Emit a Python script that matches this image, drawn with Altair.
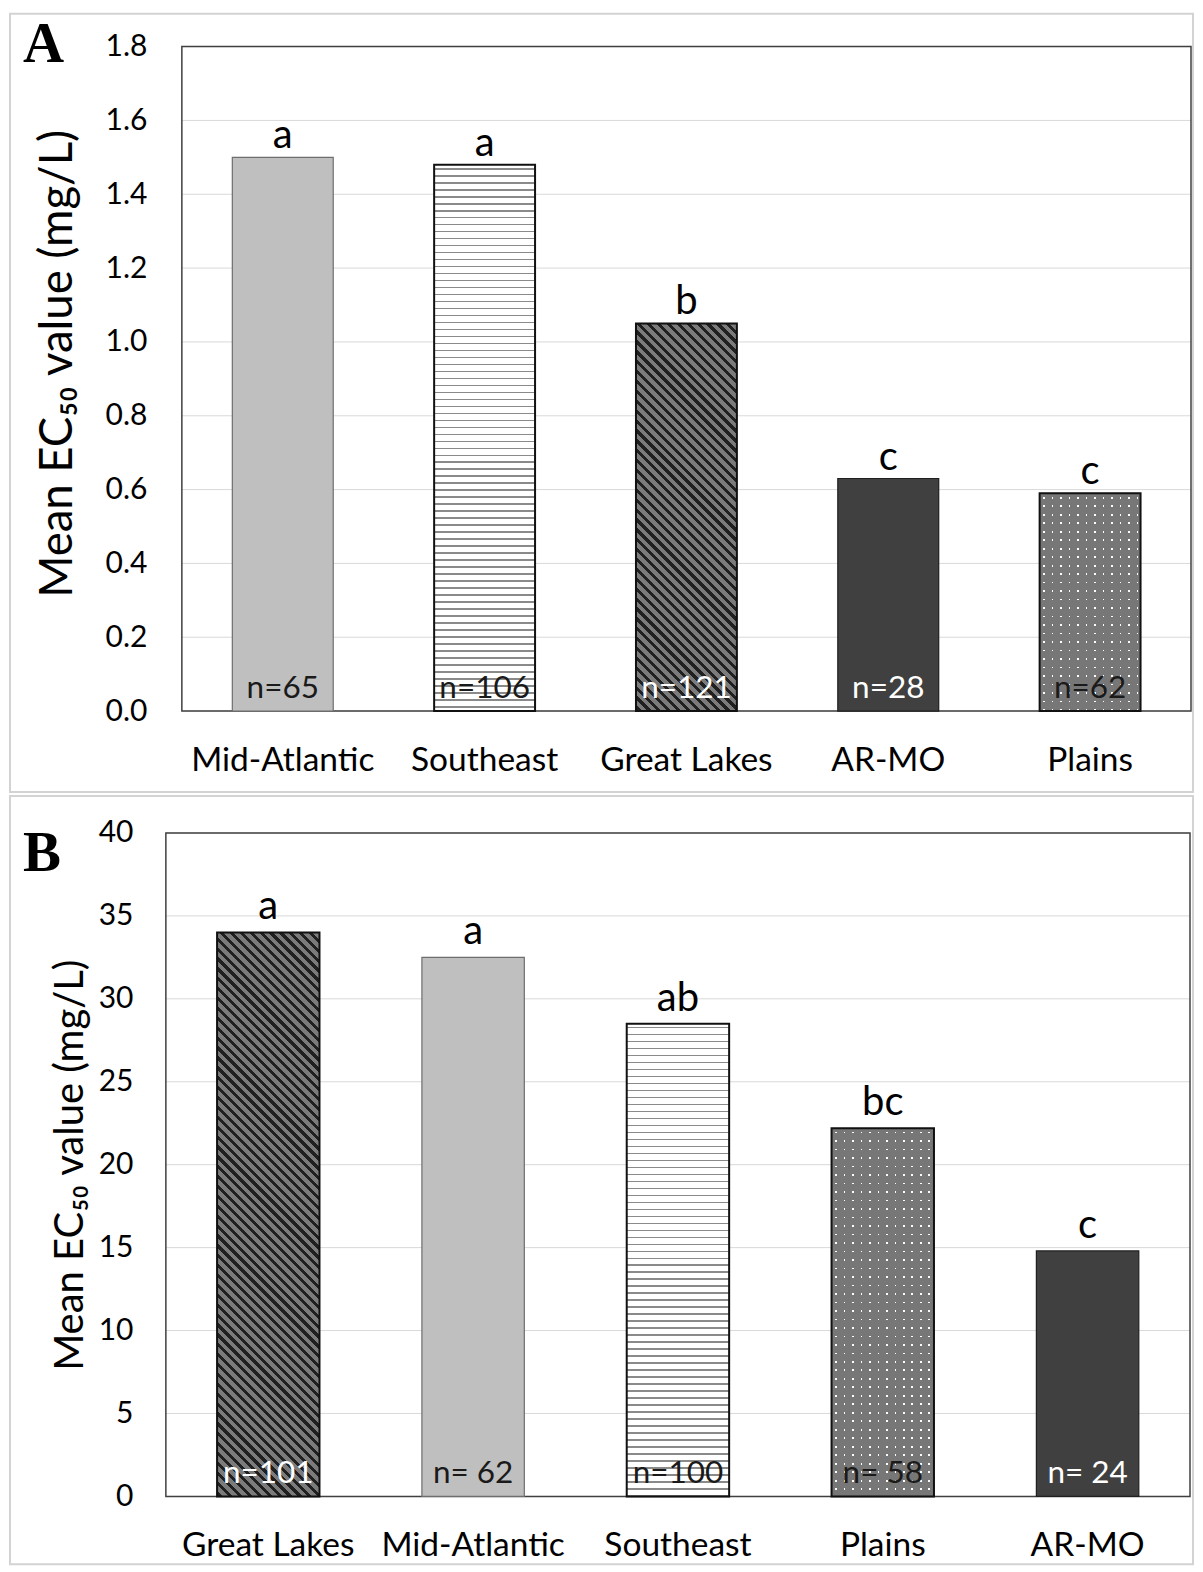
import math
import altair as alt
import pandas as pd

# ---------------- data ----------------
a_regions = ["Mid-Atlantic", "Southeast", "Great Lakes", "AR-MO", "Plains"]
a_values = [1.50, 1.48, 1.05, 0.63, 0.59]
a_letters = ["a", "a", "b", "c", "c"]
a_n = ["n=65", "n=106", "n=121", "n=28", "n=62"]
a_ticks = [0.0, 0.2, 0.4, 0.6, 0.8, 1.0, 1.2, 1.4, 1.6, 1.8]

b_regions = ["Great Lakes", "Mid-Atlantic", "Southeast", "Plains", "AR-MO"]
b_values = [34.0, 32.5, 28.5, 22.2, 14.8]
b_letters = ["a", "a", "ab", "bc", "c"]
b_n = ["n=101", "n= 62", "n=100", "n= 58", "n= 24"]
b_ticks = [0, 5, 10, 15, 20, 25, 30, 35, 40]

TITLE = "Mean EC\u2085\u2080 value  (mg/L)"

# ---------------- styles ----------------
PATTERN = {"Mid-Atlantic": "light", "Southeast": "hstripe", "Great Lakes": "diag",
           "AR-MO": "dark", "Plains": "dots"}
N_COLOR = {"Mid-Atlantic": "#1a1a1a", "Southeast": "#1a1a1a", "Great Lakes": "#ffffff",
           "AR-MO": "#ffffff", "Plains": "#1a1a1a"}
FONT = "Lato"
CLEAR = "rgba(255,255,255,0)"


def band_stops(L, period, line, bg, fg, phase=0.0):
    stops = [{"offset": 0, "color": bg}]
    pos = phase
    while pos < L:
        a = round(max(pos, 0.0) / L, 5)
        b = round(min(pos + line, L) / L, 5)
        stops += [{"offset": a, "color": bg}, {"offset": a, "color": fg},
                  {"offset": b, "color": fg}, {"offset": b, "color": bg}]
        pos += period
    stops.append({"offset": 1, "color": bg})
    return stops


def hgrad(h, period, line, bg, fg, phase=0.0):
    return {"gradient": "linear", "x1": 0, "y1": 0, "x2": 0, "y2": 1,
            "stops": band_stops(h, period, line, bg, fg, phase)}


def vgrad(w, period, line, bg, fg, phase=0.0):
    return {"gradient": "linear", "x1": 0, "y1": 0, "x2": 1, "y2": 0,
            "stops": band_stops(w, period, line, bg, fg, phase)}


def dgrad(w, h, period, line, bg, fg):
    r = h / w
    s = (1 + r) / (1 + r * r)
    L = w + h
    return {"gradient": "linear", "x1": 0, "y1": 1, "x2": round(s, 6), "y2": round(1 - s * r, 6),
            "stops": band_stops(L, period * math.sqrt(2), line * math.sqrt(2), bg, fg, 2.0)}


def bar_layers(ch, region, w, h):
    kind = PATTERN[region]
    if kind == "light":
        return [ch.mark_bar(fill="#bfbfbf", stroke="#6e6e6e", strokeWidth=1.2)]
    if kind == "dark":
        return [ch.mark_bar(fill="#404040", stroke="#1f1f1f", strokeWidth=1.2)]
    if kind == "hstripe":
        return [ch.mark_bar(fill=hgrad(h, 7.0, 1.8, "#ffffff", "#8a8a8a", 3.0),
                            stroke="#111111", strokeWidth=2)]
    if kind == "diag":
        return [ch.mark_bar(fill=dgrad(w, h, 7.0, 3.0, "#7b7b7b", "#202020"),
                            stroke="#111111", strokeWidth=2)]
    # dots: white base, vertical bars with gaps, horizontal bars with gaps
    return [
        ch.mark_bar(fill="#ffffff"),
        ch.mark_bar(fill=vgrad(w, 8.5, 1.8, "#777777", CLEAR, 3.5)),
        ch.mark_bar(fill=hgrad(h, 8.5, 1.8, "#777777", CLEAR, 3.5),
                    stroke="#111111", strokeWidth=2),
    ]


def panel(regions, values, letters, ns, ticks, ymax, fmt, W, H, cfg):
    df = pd.DataFrame({"region": regions, "value": values, "letter": letters, "n": ns})
    df["ncolor"] = [N_COLOR[r] for r in regions]
    left = cfg["left"]

    xenc = alt.X("region:N", sort=regions,
                 scale=alt.Scale(domain=regions, range=[left, W],
                                 paddingInner=0.5, paddingOuter=0.25),
                 axis=alt.Axis(title=None, domain=False, ticks=False, tickSize=0, grid=False,
                               labelFont=FONT, labelFontSize=33.5, labelColor="#000000",
                               labelAngle=0, labelPadding=cfg["xpad"],
                               labelBaseline="alphabetic", labelLimit=400))
    yaxis = alt.Axis(values=ticks, format=fmt, grid=False,
                     domain=False, ticks=False, tickSize=0,
                     labelFont=FONT, labelFontSize=cfg["tickfs"], labelColor="#000000",
                     labelPadding=cfg["ypad"],
                     title=TITLE, titleFont=FONT, titleFontSize=cfg["titlefs"],
                     titleFontWeight="normal", titleColor="#000000", titleAngle=270,
                     titleX=cfg["titleX"], titleY=cfg["titleY"], titleAlign="center",
                     titleBaseline="middle", titleLimit=800)
    yscale = alt.Scale(domain=[0, ymax], nice=False, zero=True)

    def Y(field):
        return alt.Y(f"{field}:Q", scale=yscale, axis=yaxis)

    one = pd.DataFrame({"k": [0]})
    fx, fx2, fy, fy2 = cfg["frame"]
    frame = alt.Chart(one).mark_rect(fill="transparent", stroke="#d3d3d3", strokeWidth=2).encode(
        x=alt.value(fx), x2=alt.value(fx2), y=alt.value(fy), y2=alt.value(fy2))

    grid = alt.Chart(pd.DataFrame({"tick": ticks})).mark_rule(
        color="#d9d9d9", strokeWidth=1).encode(
        y=Y("tick"), x=alt.value(left), x2=alt.value(W))

    border = alt.Chart(one).mark_rect(fill="transparent", stroke="#404040", strokeWidth=1.5).encode(
        x=alt.value(left), x2=alt.value(W), y=alt.value(0), y2=alt.value(H))

    base = alt.Chart(df).encode(x=xenc, y=Y("value"))
    layers = [frame, grid, border]
    bw = (W - left) / len(regions) * 0.5
    for r, v in zip(regions, values):
        h = v / ymax * H
        layers += bar_layers(base.transform_filter(alt.datum.region == r), r, bw, h)

    layers.append(base.mark_text(font=FONT, fontSize=40, baseline="alphabetic",
                                 dy=cfg["letter_dy"], color="#000000").encode(text="letter:N"))
    layers.append(alt.Chart(df).transform_calculate(zero="0").mark_text(
        font=FONT, fontSize=31.5, baseline="alphabetic", dy=-13).encode(
        x=xenc, y=Y("zero"), text="n:N", color=alt.Color("ncolor:N", scale=None)))

    tx, ty = cfg["tag_pos"]
    layers.append(alt.Chart(one).mark_text(text=cfg["tag"], font="Liberation Serif", fontWeight="bold",
                                           fontSize=57, align="left", baseline="alphabetic",
                                           color="#000000").encode(
        x=alt.value(tx), y=alt.value(ty)))
    return alt.layer(*layers).properties(width=W, height=H)


# both panels share the plot origin at page x=165; panel A's plot box starts 16px further right
cfgA = {"left": 16, "xpad": 59, "tickfs": 30, "ypad": 19, "titlefs": 45.5, "titleX": -108, "titleY": 317,
        "frame": (-156, 1028, -33, 746), "letter_dy": -9, "tag": "A", "tag_pos": (-143, 15)}
cfgB = {"left": 0, "xpad": 59, "tickfs": 30, "ypad": 33, "titlefs": 40, "titleX": -95, "titleY": 332,
        "frame": (-156, 1028, -37, 732), "letter_dy": -13, "tag": "B", "tag_pos": (-143, 38)}

chartA = panel(a_regions, a_values, a_letters, a_n, a_ticks, 1.8, ".1f", 1026, 665, cfgA)
chartB = panel(b_regions, b_values, b_letters, b_n, b_ticks, 40, "d", 1025, 664, cfgB)

chart = alt.vconcat(chartA, chartB, spacing=0,
                    padding={"left": 0, "top": 3, "right": 0, "bottom": 0}).configure_view(
    stroke="transparent")

chart.save("out.html", embed_options={"renderer": "svg", "actions": False})
